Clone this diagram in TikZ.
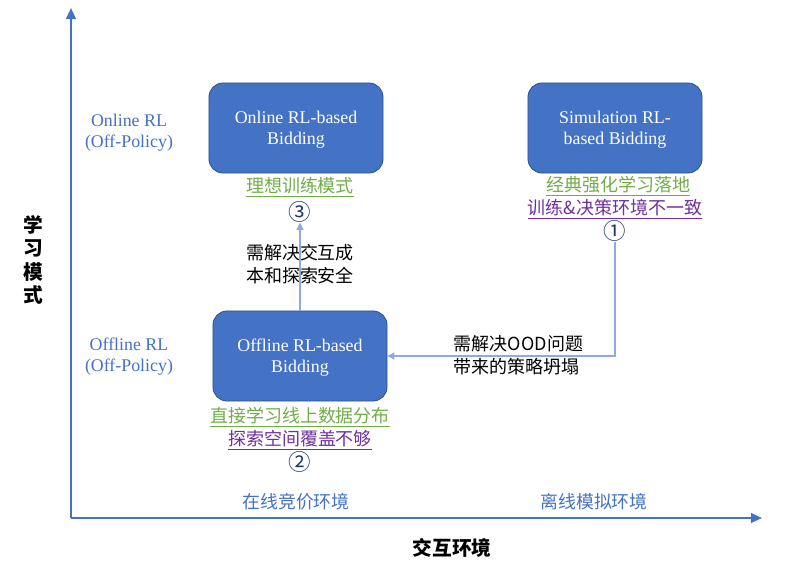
\documentclass[tikz,border=0pt]{standalone}
\usepackage{fontspec}
\setmainfont{Liberation Serif}
\newfontfamily\cjk{Noto Sans CJK SC}
\usetikzlibrary{arrows.meta, positioning}
\definecolor{myblue}{RGB}{68,114,196}
\definecolor{myframe}{RGB}{47,82,143}
\definecolor{mylight}{RGB}{143,170,220}
\definecolor{mygreen}{RGB}{112,173,71}
\definecolor{mypurple}{RGB}{112,48,160}
\definecolor{mynavy}{RGB}{32,56,100}
\tikzset{
  block/.style={rectangle, draw=myframe, fill=myblue, text=white,
    minimum width=4.35cm, minimum height=2.25cm, align=center, text depth=0pt,
    font=\fontsize{12.7}{15}\selectfont, rounded corners=10pt, line width=0.6pt},
  axis/.style={-{Triangle[length=8pt,width=7pt]}, line width=1.5pt, color=myblue},
  conn/.style={-{Triangle[length=5pt,width=5pt]}, line width=0.9pt, color=mylight},
  modelabel/.style={text=myblue, align=center, font=\fontsize{12.7}{15}\selectfont},
  envlabel/.style={text=myblue, font=\cjk\fontsize{12.7}{15}\selectfont},
  goodnote/.style={text=mygreen, inner sep=1pt, font=\cjk\fontsize{12.8}{15}\selectfont},
  badnote/.style={text=mypurple, inner sep=1pt, font=\cjk\fontsize{12.8}{15}\selectfont},
  costnote/.style={text=black, align=left, font=\cjk\fontsize{12.8}{16.5}\selectfont},
  circnum/.style={text=mynavy, inner sep=0pt, font=\cjk\fontsize{16}{18}\selectfont},
  axislabel/.style={text=black, align=center, font=\cjk\bfseries\fontsize{14}{16.5}\selectfont}
}

\begin{document}
\begin{tikzpicture}[x=0.025cm, y=-0.025cm]
  \useasboundingbox (0,0) rectangle (798,578);

  % Axes
  \coordinate (origin) at (71,518);
  \coordinate (ytop) at (71,8);
  \coordinate (xend) at (762,518);
  \draw[axis] (origin) -- (ytop);
  \draw[axis] (origin) -- (xend);

  \node[axislabel] (ymode) at (33,260) {学\\习\\模\\式};
  \node[axislabel] (xenv) at (452,548) {交互环境};

  \node[modelabel] (onl) at (129,133) {Online RL\\(Off-Policy)};
  \node[modelabel] (offl) at (129,357) {Offline RL\\(Off-Policy)};
  \node[envlabel] (envon) at (296,502) {在线竞价环境};
  \node[envlabel] (envoff) at (594,502) {离线模拟环境};

  % Blocks
  \node[block] (online) at (296,128) {Online RL-based\\Bidding};
  \node[block] (sim) at (615,128) {Simulation RL-\\based Bidding};
  \node[block] (offline) at (300,356) {Offline RL-based\\Bidding};

  % Notes
  \node[goodnote] (ideal) at (300,187) {\underline{理想训练模式}};
  \node[circnum] (n3) at (300,212) {③};

  \node[goodnote] (classic) at (618,186) {\underline{经典强化学习落地}};
  \node[badnote] (mismatch) at (615,209) {\underline{训练\&决策环境不一致}};
  \node[circnum] (n1) at (615,231) {①};

  \node[goodnote] (direct) at (300,417) {\underline{直接学习线上数据分布}};
  \node[badnote] (explore) at (300,440) {\underline{探索空间覆盖不够}};
  \node[circnum] (n2) at (300,462) {②};

  \node[costnote] (cost) at (300,264) {需解决交互成\\本和探索安全};
  \node[costnote, anchor=west] (ood) at (449,355) {需解决OOD问题\\带来的策略坍塌};

  % Connections
  \draw[conn] (offline) -- (n3);
  \draw[conn] (n1) |- (offline);

\end{tikzpicture}
\end{document}
